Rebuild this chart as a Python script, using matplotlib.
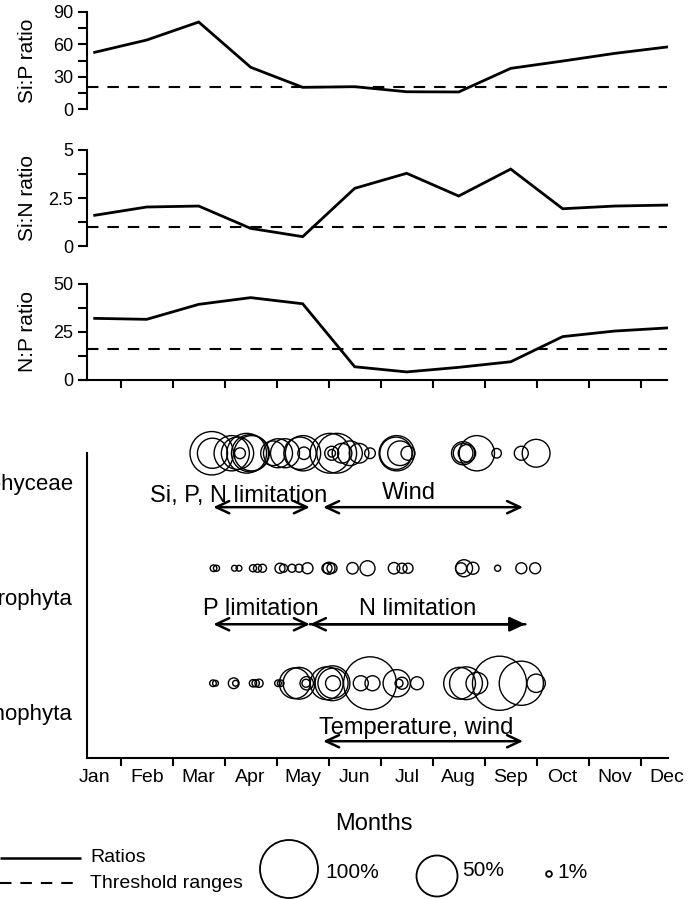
import numpy as np
import matplotlib
matplotlib.use("Agg")
import matplotlib.pyplot as plt

plt.rcParams['font.family'] = ['Liberation Sans', 'DejaVu Sans']

# ---- data ----
months = ['Jan', 'Feb', 'Mar', 'Apr', 'May', 'Jun',
          'Jul', 'Aug', 'Sep', 'Oct', 'Nov', 'Dec']
si_p = [52.6, 64, 80.7, 38.7, 20.1, 20.7, 16, 15.8, 37.7, 44.5, 51.6, 57.5]
si_n = [1.61, 2.04, 2.09, 0.93, 0.5, 3.01, 3.79, 2.61, 4.01, 1.95, 2.09, 2.14]
n_p = [32.1, 31.6, 39.4, 42.9, 39.7, 6.9, 4.2, 6.6, 9.5, 22.6, 25.5, 27.1]
si_p_thr = 20
si_n_thr = 1
n_p_thr = 16

groups = ['Bacillariophyceae', 'Chlorophyta', 'Cyanophyta']

# sampling date (month units) and relative abundance (%)
bac_x = [2.750, 2.765, 3.135, 3.246, 3.423, 3.487, 3.519, 3.294, 3.929, 4.025, 4.160,
         4.448, 4.506, 4.525, 5.025, 5.154, 5.058, 5.058, 5.256, 5.410, 5.583, 5.794,
         6.308, 6.294, 6.371, 6.525, 7.585, 7.585, 7.659, 7.849, 8.229, 8.704, 8.989]
bac_pct = [56, 27, 37, 31, 47, 41, 37, 3.5, 18, 25, 25,
           31, 37, 4.6, 47, 47, 5.8, 1.7, 11.5, 18, 11.5, 3.4,
           37, 31, 18, 5.8, 16, 11.5, 9, 37, 2.7, 5.8, 23]

chl_x = [2.785, 2.842, 3.188, 3.275, 3.544, 3.631, 3.727, 4.063, 4.131, 4.294, 4.429,
         4.592, 4.967, 5.006, 5.063, 5.458, 5.746, 6.256, 6.410, 6.525, 7.546, 7.603,
         7.774, 8.248, 8.704, 8.970]
chl_pct = [1.3, 1.1, 1.0, 1.0, 1.5, 1.9, 1.9, 3.0, 1.9, 1.9, 1.9,
           3.6, 3.0, 4.3, 3.0, 3.9, 6.7, 3.9, 3.0, 3.0, 3.6, 8.6,
           4.3, 1.1, 3.6, 3.6]

cya_x = [2.775, 2.823, 3.173, 3.208, 3.544, 3.596, 3.660, 4.025, 4.077, 4.346, 4.429,
         4.577, 4.563, 4.962, 5.073, 5.083, 5.083, 5.794, 5.617, 5.842, 6.308, 6.352,
         6.410, 6.698, 7.517, 7.640, 7.849, 8.285, 8.704, 8.989]
cya_pct = [1.3, 1.0, 3.4, 1.0, 1.6, 1.6, 2.0, 1.3, 1.3, 28, 30,
           5.3, 1.9, 32, 36, 27, 6.7, 83, 6.7, 6.7, 22, 1.9,
           4.3, 5, 30, 32, 14, 87, 58, 10]

legend_pct = [100, 50, 1]
legend_lbl = ['100%', '50%', '1%']


def bubble_size(pct):
    # area proportional, 100 % -> 58 px wide circle
    return 17.44 * np.asarray(pct, dtype=float)


fig = plt.figure(figsize=(6.89, 8.99), dpi=100)

XLIM = (0.2, 11.53)
L, W = 79.1 / 689, (668.26 - 79.1) / 689
YSPINE = 0.35
xc = np.arange(12) + 0.5


def ratio_panel(bottom, height, vals, thr, ylim, ticks, labels, ylabel, show_x):
    ax = fig.add_axes([L, bottom, W, height])
    ax.plot(xc, vals, color='black', lw=2.0, solid_joinstyle='miter')
    ax.hlines(thr, YSPINE, 11.5, colors='black', lw=1.5, linestyles=(0, (5.5, 4.3)))
    ax.set_xlim(*XLIM)
    ax.set_ylim(*ylim)
    ax.spines['top'].set_visible(False)
    ax.spines['right'].set_visible(False)
    ax.spines['left'].set_position(('data', YSPINE))
    ax.spines['left'].set_linewidth(1.5)
    ax.set_yticks(ticks)
    ax.set_yticklabels(labels)
    ax.tick_params(axis='y', direction='out', length=6.5, width=1.5, pad=3.5, labelsize=13)
    if show_x:
        ax.spines['bottom'].set_linewidth(1.5)
        ax.spines['bottom'].set_bounds(XLIM[0], 11.5)
        ax.set_xticks(np.arange(1, 12))
        ax.set_xticklabels([])
        ax.tick_params(axis='x', direction='out', length=5.5, width=1.5)
    else:
        ax.spines['bottom'].set_visible(False)
        ax.set_xticks([])
    ax.set_ylabel(ylabel, fontsize=15)
    ax.yaxis.set_label_coords(-0.072, 0.5)
    ax.patch.set_alpha(0)
    return ax


ratio_panel(1 - 109 / 899, 97 / 899, si_p, si_p_thr, (0, 90),
            [0, 15, 30, 45, 60, 75, 90], ['0', '', '30', '', '60', '', '90'],
            'Si:P ratio', False)
ratio_panel(1 - 246.3 / 899, 96.3 / 899, si_n, si_n_thr, (0, 5),
            [0, 1.25, 2.5, 3.75, 5], ['0', '', '2.5', '', '5'],
            'Si:N ratio', False)
ratio_panel(1 - 380 / 899, 96 / 899, n_p, n_p_thr, (0, 50),
            [0, 12.5, 25, 37.5, 50], ['0', '', '25', '', '50'],
            'N:P ratio', True)

# ---- bubble panel ----
ax = fig.add_axes([L, 1 - 758 / 899, W, 304.75 / 899])
ax.set_xlim(*XLIM)
ax.set_ylim(0.35, 3.0)
rows = [(bac_x, bac_pct, 3), (chl_x, chl_pct, 2), (cya_x, cya_pct, 1)]
for xs, pc, yr in rows:
    ax.scatter(xs, [yr] * len(xs), s=bubble_size(pc), facecolors='none',
               edgecolors='black', linewidths=1.0, clip_on=False)
ax.spines['top'].set_visible(False)
ax.spines['right'].set_visible(False)
ax.spines['left'].set_position(('data', YSPINE))
ax.spines['left'].set_linewidth(1.5)
ax.spines['bottom'].set_linewidth(1.5)
ax.spines['bottom'].set_bounds(YSPINE, XLIM[1])
ax.set_yticks([2.75, 1.75, 0.75])
ax.set_yticklabels(groups, fontsize=16)
ax.tick_params(axis='y', length=0, pad=10)
ax.set_xticks(np.arange(1, 12))
ax.set_xticklabels([])
ax.tick_params(axis='x', which='major', direction='out', length=5.5, width=1.5)
ax.set_xticks(xc, minor=True)
ax.set_xticklabels(months, minor=True, fontsize=14)
ax.tick_params(axis='x', which='minor', length=0, pad=8)
ax.patch.set_alpha(0)


def arrow(x0, x1, y, style):
    ax.annotate('', xy=(x1, y), xytext=(x0, y),
                arrowprops=dict(arrowstyle=style + ',head_length=0.47,head_width=0.22',
                                lw=1.8, color='black', shrinkA=0, shrinkB=0,
                                mutation_scale=20))


arrow(2.779, 4.638, 2.531, '<->')
arrow(4.892, 8.738, 2.531, '<->')
ax.text(3.265, 2.574, 'Si, P, N limitation', ha='center', va='baseline', fontsize=17)
ax.text(6.54, 2.60, 'Wind', ha='center', va='baseline', fontsize=17)

arrow(2.779, 4.638, 1.513, '<->')
arrow(4.638, 8.781, 1.513, '<-')
arrow(4.638, 8.781, 1.513, '-|>')
ax.text(3.687, 1.591, 'P limitation', ha='center', va='baseline', fontsize=17)
ax.text(6.71, 1.591, 'N limitation', ha='center', va='baseline', fontsize=17)

arrow(4.892, 8.738, 0.496, '<->')
ax.text(6.69, 0.557, 'Temperature, wind', ha='center', va='baseline', fontsize=17)

fig.text(373.7 / 689, 1 - 830 / 899, 'Months', ha='center', va='baseline', fontsize=17)

# ---- legend (pixel coordinates) ----
lg = fig.add_axes([0, 0, 1, 1])
lg.set_xlim(0, 689)
lg.set_ylim(899, 0)
lg.axis('off')
lg.plot([0, 81], [858, 858], color='black', lw=1.8, solid_capstyle='butt')
lg.plot([0, 81], [883, 883], color='black', lw=1.5, linestyle=(0, (5.5, 4.3)))
lg.text(90, 858, 'Ratios', va='center', fontsize=14)
lg.text(90, 884, 'Threshold ranges', va='center', fontsize=14)
lg.scatter([289, 437, 549], [869, 876, 874], s=bubble_size(legend_pct),
           facecolors='none', edgecolors='black', linewidths=1.3, clip_on=False)
for xt, yt, t in zip([325, 462, 557], [872, 870, 872], legend_lbl):
    lg.text(xt, yt, t, va='center', fontsize=15)

fig.savefig('out.png', dpi=100)
